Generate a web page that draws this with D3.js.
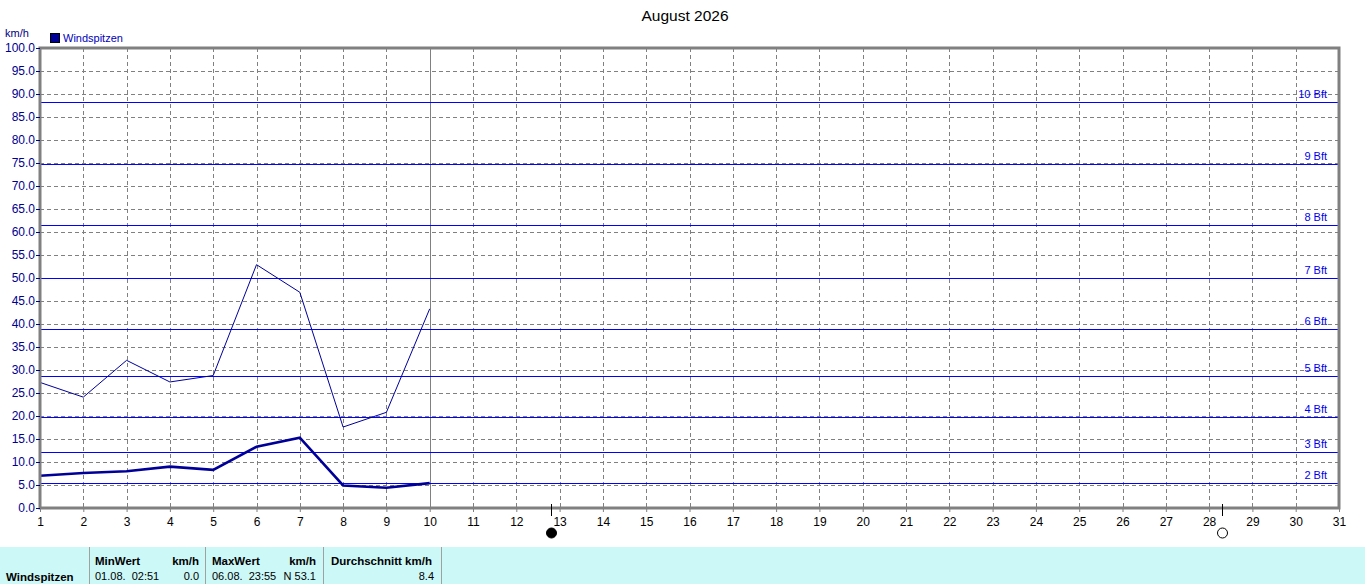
<!DOCTYPE html>
<html>
<head>
<meta charset="utf-8">
<script src="https://cdn.jsdelivr.net/npm/d3@7"></script>
<style>
  body { margin: 0; background: #fff; }
  svg { display: block; font-family: "Liberation Sans", Arial, sans-serif; }
</style>
</head>
<body>
<svg id="chart" width="1366" height="584"></svg>
<script>
// Tage im Monat
var days = d3.range(1, 32);
// Windspitzen (duenne Linie) und Mittel (dicke Linie), Tag 1..10
var peakDays = [1, 2, 3, 4, 5, 6, 7, 8, 9, 10];
var peakValues = [27.3, 24.1, 32.1, 27.4, 28.8, 52.9, 46.9, 17.6, 20.8, 43.3];
var meanValues = [7.0, 7.6, 8.0, 9.0, 8.3, 13.3, 15.3, 4.9, 4.4, 5.4];
// Beaufort-Grenzen in km/h
var bftLabels = ['2 Bft', '3 Bft', '4 Bft', '5 Bft', '6 Bft', '7 Bft', '8 Bft', '9 Bft', '10 Bft'];
var bftValues = [5.5, 12.1, 19.7, 28.7, 38.9, 50.0, 61.5, 74.7, 88.2];
var yTicks = d3.range(0, 101, 5);
// Mondphasen: Neumond / Vollmond
var moonDays = [12.8, 28.3];
var moonFull = [false, true];
var currentDay = 10;

var svg = d3.select('#chart');

var x = d3.scaleLinear().domain([1, 31]).range([40, 1339]);
var y = d3.scaleLinear().domain([0, 100]).range([508, 48]);

svg.append('text')
    .attr('x', 685).attr('y', 21)
    .attr('text-anchor', 'middle')
    .attr('font-size', 15.5)
    .text('August 2026');

svg.append('text')
    .attr('x', 5).attr('y', 37)
    .attr('font-size', 11)
    .attr('fill', '#000080')
    .text('km/h');

svg.append('rect')
    .attr('x', 50.5).attr('y', 33.5).attr('width', 9).attr('height', 9)
    .attr('fill', '#000099').attr('stroke', '#000');
svg.append('text')
    .attr('x', 63).attr('y', 42)
    .attr('font-size', 11)
    .attr('fill', '#0000bb')
    .text('Windspitzen');

// Gitter
var grid = svg.append('g');
grid.selectAll('.vg')
    .data(days.slice(1, 30))
    .enter().append('line')
    .attr('x1', function (d) { return Math.round(x(d)) + 0.5; })
    .attr('x2', function (d) { return Math.round(x(d)) + 0.5; })
    .attr('y1', y(100)).attr('y2', y(0))
    .attr('stroke', '#808080')
    .attr('stroke-dasharray', '4,3');

grid.selectAll('.hg')
    .data(yTicks.slice(1, 20))
    .enter().append('line')
    .attr('x1', x(1)).attr('x2', x(31))
    .attr('y1', function (d) { return Math.round(y(d)) + 0.5; })
    .attr('y2', function (d) { return Math.round(y(d)) + 0.5; })
    .attr('stroke', '#808080')
    .attr('stroke-dasharray', '4,3');

// aktueller Tag
svg.append('line')
    .attr('x1', Math.round(x(currentDay)) + 0.5).attr('x2', Math.round(x(currentDay)) + 0.5)
    .attr('y1', y(100)).attr('y2', y(0))
    .attr('stroke', '#808080');

// Beaufort Linien
var bft = svg.append('g');
bft.selectAll('line')
    .data(bftValues)
    .enter().append('line')
    .attr('x1', x(1)).attr('x2', x(31))
    .attr('y1', function (d) { return Math.round(y(d)) + 0.5; })
    .attr('y2', function (d) { return Math.round(y(d)) + 0.5; })
    .attr('stroke', '#0000ff');
bft.selectAll('text')
    .data(bftValues)
    .enter().append('text')
    .attr('x', 1327)
    .attr('y', function (d) { return Math.round(y(d)) - 4; })
    .attr('text-anchor', 'end')
    .attr('font-size', 11)
    .attr('fill', '#0000ee')
    .text(function (d, i) { return bftLabels[i]; });

// Linien
var line = d3.line()
    .x(function (d, i) { return x(peakDays[i]); })
    .y(function (d) { return y(d); });

svg.append('path')
    .attr('d', line(peakValues))
    .attr('fill', 'none')
    .attr('stroke', '#000099')
    .attr('stroke-width', 1);

svg.append('path')
    .attr('d', line(meanValues))
    .attr('fill', 'none')
    .attr('stroke', '#000099')
    .attr('stroke-width', 2.6);

// Rahmen
svg.append('rect')
    .attr('x', x(1)).attr('y', y(100))
    .attr('width', x(31) - x(1)).attr('height', y(0) - y(100))
    .attr('fill', 'none')
    .attr('stroke', '#808080')
    .attr('stroke-width', 3);

// Achsen
var yAxis = d3.axisLeft(y).tickValues(yTicks).tickSize(4).tickFormat(d3.format('.1f'));
var gy = svg.append('g').attr('transform', 'translate(' + x(1) + ',0)').call(yAxis);
gy.select('.domain').remove();
gy.selectAll('line').attr('stroke', '#000080');
gy.selectAll('text').attr('fill', '#000090').attr('font-size', 12).attr('x', -5);

var xAxis = d3.axisBottom(x).tickValues(days).tickSize(4).tickFormat(d3.format('d'));
var gx = svg.append('g').attr('transform', 'translate(0,' + y(0) + ')').call(xAxis);
gx.select('.domain').remove();
gx.selectAll('line').attr('stroke', '#808080');
gx.selectAll('text').attr('fill', '#000').attr('font-size', 12).attr('dy', '0.95em');

// Mondphasen
var moons = svg.append('g').selectAll('g')
    .data(moonDays)
    .enter().append('g')
    .attr('transform', function (d) { return 'translate(' + Math.round(x(d)) + ',0)'; });
moons.append('line')
    .attr('x1', 0.5).attr('x2', 0.5)
    .attr('y1', 504).attr('y2', 516)
    .attr('stroke', '#000');
moons.append('circle')
    .attr('cx', 0.5).attr('cy', 533).attr('r', 5)
    .attr('fill', function (d, i) { return moonFull[i] ? '#fff' : '#000'; })
    .attr('stroke', '#000');

// Tabelle
var table = svg.append('g');
table.append('rect')
    .attr('x', 0).attr('y', 547).attr('width', 1365).attr('height', 37)
    .attr('fill', '#ccf8f8');
[89, 205, 323, 441].forEach(function (sx) {
    table.append('line')
        .attr('x1', sx + 0.5).attr('x2', sx + 0.5)
        .attr('y1', 547).attr('y2', 584)
        .attr('stroke', '#a0a0a0');
});

var cells = [
    {t: 'Windspitzen', x: 6, y: 581, b: true, a: 'start'},
    {t: 'MinWert', x: 95, y: 565, b: true, a: 'start'},
    {t: 'km/h', x: 199, y: 565, b: true, a: 'end'},
    {t: '01.08.  02:51', x: 95, y: 580, b: false, a: 'start'},
    {t: '0.0', x: 199, y: 580, b: false, a: 'end'},
    {t: 'MaxWert', x: 212, y: 565, b: true, a: 'start'},
    {t: 'km/h', x: 316, y: 565, b: true, a: 'end'},
    {t: '06.08.  23:55', x: 212, y: 580, b: false, a: 'start'},
    {t: 'N 53.1', x: 316, y: 580, b: false, a: 'end'},
    {t: 'Durchschnitt km/h', x: 331, y: 565, b: true, a: 'start'},
    {t: '8.4', x: 434, y: 580, b: false, a: 'end'}
];
table.selectAll('text')
    .data(cells)
    .enter().append('text')
    .attr('x', function (d) { return d.x; })
    .attr('y', function (d) { return d.y; })
    .attr('text-anchor', function (d) { return d.a; })
    .attr('font-weight', function (d) { return d.b ? 'bold' : 'normal'; })
    .attr('font-size', function (d) { return d.b ? 11.5 : 11; })
    .attr('fill', '#000')
    .style('white-space', 'pre')
    .text(function (d) { return d.t; });
</script>
</body>
</html>
